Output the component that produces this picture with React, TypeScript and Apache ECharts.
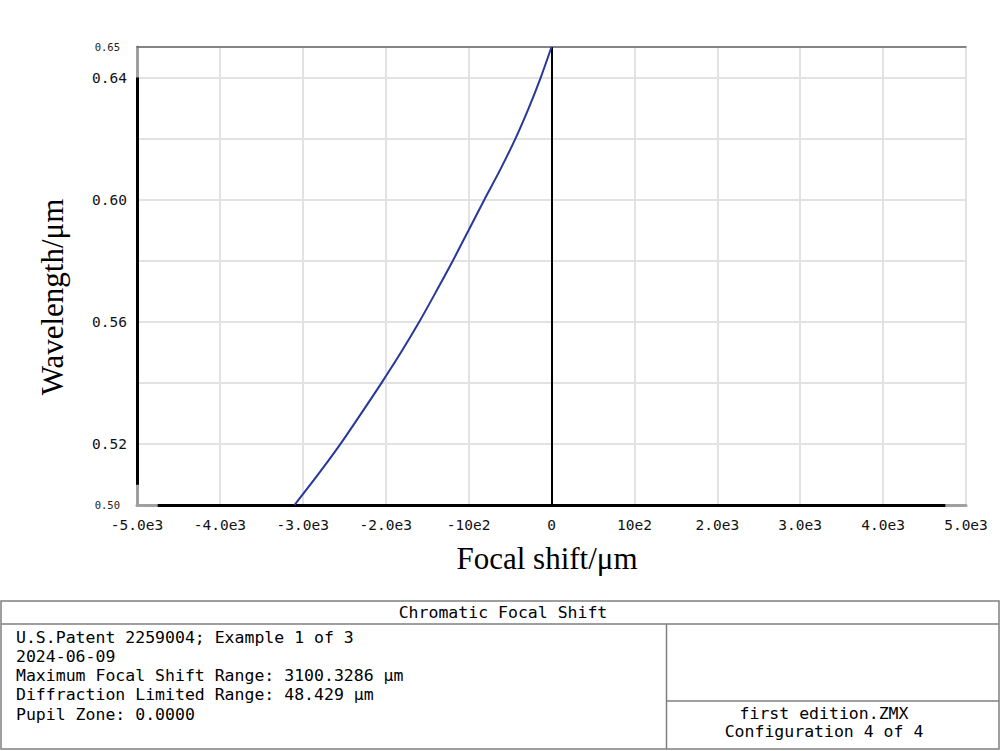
import React, { useEffect, useRef } from "react";
import * as echarts from "echarts";

const wavelengths = [0.50, 0.51, 0.52, 0.53, 0.54, 0.55, 0.56, 0.57, 0.58, 0.59, 0.60, 0.61, 0.62, 0.63, 0.64, 0.65];
const focalShift = [-3100, -2815, -2545, -2295, -2050, -1815, -1595, -1390, -1190, -1000, -810, -615, -435, -275, -130, 0];

const xTickLabels = ["-5.0e3", "-4.0e3", "-3.0e3", "-2.0e3", "-10e2", "0", "10e2", "2.0e3", "3.0e3", "4.0e3", "5.0e3"];
const yMajorLabels = ["0.64", "0.60", "0.56", "0.52"];
const yEndLabels = ["0.65", "0.50"];
const yEndValues = [0.65, 0.5];

const xName = "Focal shift/μm";
const yName = "Wavelength/μm";

const tableTitle = "Chromatic Focal Shift";
const infoLines = [
  "U.S.Patent 2259004; Example 1 of 3",
  "2024-06-09",
  "Maximum Focal Shift Range: 3100.3286 µm",
  "Diffraction Limited Range: 48.429 µm",
  "Pupil Zone: 0.0000",
];
const fileLines = ["first edition.ZMX", "Configuration 4 of 4"];

const MONO = '"DejaVu Sans Mono", monospace';
const SERIF = '"Liberation Serif", "Times New Roman", serif';

export default function App() {
  const ref = useRef<HTMLDivElement>(null);

  useEffect(() => {
    if (!ref.current) return;
    const chart = echarts.init(ref.current, undefined, { renderer: "svg" });

    const curve = wavelengths.map((w, i) => [focalShift[i], w]);
    const tableStroke = "#7f7f7f";

    const graphics: any[] = [
      {
        type: "text",
        x: 52,
        y: 297,
        rotation: Math.PI / 2,
        style: { text: yName, fontSize: 31, fontFamily: SERIF, fill: "#000", align: "center", verticalAlign: "middle" },
      },
      {
        type: "text",
        x: 547,
        y: 558,
        style: { text: xName, fontSize: 31, fontFamily: SERIF, fill: "#000", align: "center", verticalAlign: "middle" },
      },
      {
        type: "rect",
        shape: { x: 1, y: 601, width: 998, height: 148 },
        style: { fill: "none", stroke: tableStroke, lineWidth: 1.5 },
      },
      { type: "line", shape: { x1: 1, y1: 624, x2: 999, y2: 624 }, style: { stroke: tableStroke, lineWidth: 1.5 } },
      { type: "line", shape: { x1: 666.5, y1: 624, x2: 666.5, y2: 749 }, style: { stroke: tableStroke, lineWidth: 1.5 } },
      { type: "line", shape: { x1: 666.5, y1: 701, x2: 999, y2: 701 }, style: { stroke: tableStroke, lineWidth: 1.5 } },
      {
        type: "text",
        x: 503,
        y: 612.5,
        style: { text: tableTitle, fontSize: 16.5, fontFamily: MONO, fill: "#000", align: "center", verticalAlign: "middle" },
      },
      ...infoLines.map((t, i) => ({
        type: "text",
        x: 16,
        y: 637 + i * 19.3,
        style: { text: t, fontSize: 16.5, fontFamily: MONO, fill: "#000", align: "left", verticalAlign: "middle" },
      })),
      ...fileLines.map((t, i) => ({
        type: "text",
        x: 824,
        y: 713 + i * 18.5,
        style: { text: t, fontSize: 16.5, fontFamily: MONO, fill: "#000", align: "center", verticalAlign: "middle" },
      })),
    ];

    const black = (w: number) => ({ color: "#000", width: w, type: "solid" });
    const grayTick = { color: "#999", width: 1, type: "solid" };

    chart.setOption({
      animation: false,
      backgroundColor: "#fff",
      grid: { left: 137, right: 34, top: 47, bottom: 246, containLabel: false },
      xAxis: [
        {
          type: "value",
          min: -5000,
          max: 5000,
          interval: 1000,
          axisLine: { show: true, onZero: false, lineStyle: { color: "#a0a0a0", width: 3 } },
          axisTick: { show: false },
          splitLine: { show: true, lineStyle: { color: "#e2e2e2", width: 2 } },
          axisLabel: {
            margin: 12,
            fontSize: 14.5,
            fontFamily: MONO,
            color: "#111",
            formatter: (v: number) => xTickLabels[Math.round((v + 5000) / 1000)] ?? "",
          },
        },
        {
          type: "value",
          position: "top",
          min: -5000,
          max: 5000,
          interval: 1000,
          axisLine: { show: true, onZero: false, lineStyle: { color: "#666", width: 1.5 } },
          axisTick: { show: false },
          axisLabel: { show: false },
          splitLine: { show: false },
        },
      ],
      yAxis: {
        type: "value",
        min: 0.5,
        max: 0.65,
        interval: 0.02,
        axisLine: { show: true, onZero: false, lineStyle: { color: "#a0a0a0", width: 3 } },
        axisTick: { show: false },
        splitLine: { show: true, lineStyle: { color: "#e2e2e2", width: 2 } },
        axisLabel: {
          margin: 10,
          formatter: (v: number) => {
            const s = v.toFixed(2);
            if (yMajorLabels.includes(s)) return "{b|" + s + "}";
            if (yEndLabels.includes(s)) return "{s|" + s + "}";
            return "";
          },
          rich: {
            b: { fontSize: 14.5, fontFamily: MONO, color: "#111" },
            s: { fontSize: 10.5, fontFamily: MONO, color: "#222", padding: [0, 7, 0, 0] },
          },
        },
      },
      series: [
        {
          type: "line",
          data: curve,
          showSymbol: false,
          smooth: 0.3,
          clip: false,
          lineStyle: { color: "#27389a", width: 2 },
          z: 5,
          markLine: {
            silent: true,
            symbol: ["none", "none"],
            label: { show: false },
            lineStyle: black(3),
            data: [
              [{ coord: [-5000, 0.5066], lineStyle: black(3) }, { coord: [-5000, 0.64] }],
              [{ coord: [-4750, 0.5], lineStyle: black(3) }, { coord: [4750, 0.5] }],
              [{ coord: [0, 0.5], lineStyle: black(2) }, { coord: [0, 0.65] }],
              ...yEndValues.map((v) => [
                { coord: [-5110, v], lineStyle: grayTick },
                { coord: [-5015, v] },
              ]),
            ],
          },
        },
      ],
      graphic: graphics,
    });

    return () => chart.dispose();
  }, []);

  return (
    <div
      ref={ref}
      style={{ position: "fixed", left: 0, top: 0, width: 1000, height: 751, background: "#fff" }}
    />
  );
}
